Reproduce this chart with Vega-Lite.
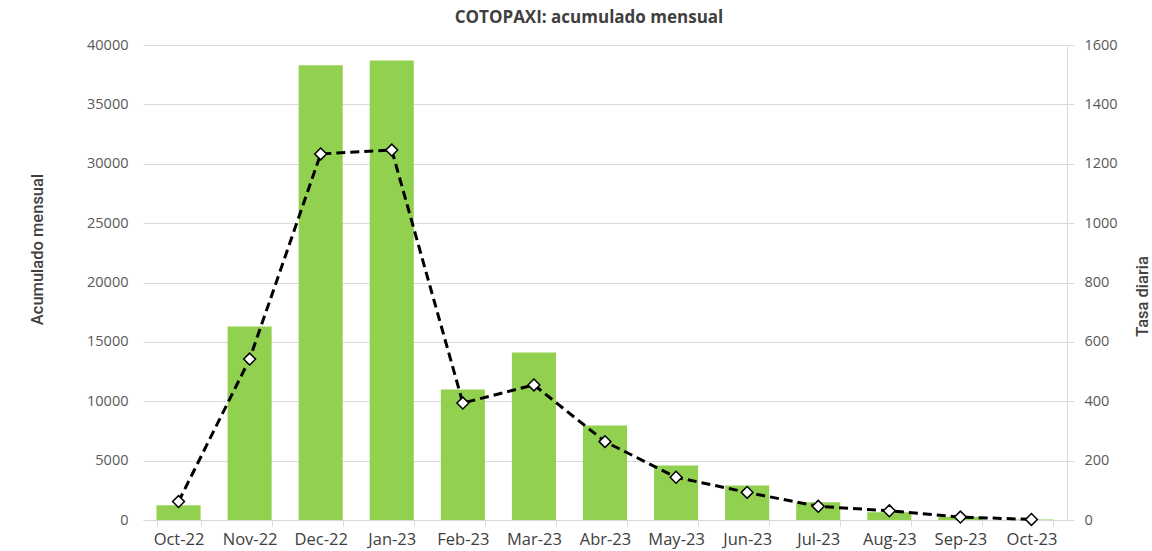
{
  "$schema": "https://vega.github.io/schema/vega-lite/v6.json",
  "width": 924,
  "height": 475,
  "autosize": {"type": "none"},
  "padding": {"left": 143, "top": 45, "right": 85, "bottom": 31},
  "background": "white",
  "config": {"view": {"stroke": null}},
  "title": {
    "text": "COTOPAXI: acumulado mensual",
    "font": "Open Sans",
    "fontSize": 17,
    "fontWeight": "bold",
    "color": "#404040",
    "anchor": "middle",
    "offset": 10,
    "dx": -16
  },
  "data": {
    "values": [
      {"mes": "Oct-22", "acumulado": 1250, "tasa": 62},
      {"mes": "Nov-22", "acumulado": 16300, "tasa": 542},
      {"mes": "Dec-22", "acumulado": 38300, "tasa": 1233},
      {"mes": "Jan-23", "acumulado": 38700, "tasa": 1246},
      {"mes": "Feb-23", "acumulado": 11000, "tasa": 394},
      {"mes": "Mar-23", "acumulado": 14100, "tasa": 455},
      {"mes": "Abr-23", "acumulado": 7950, "tasa": 264},
      {"mes": "May-23", "acumulado": 4600, "tasa": 144},
      {"mes": "Jun-23", "acumulado": 2900, "tasa": 93},
      {"mes": "Jul-23", "acumulado": 1500, "tasa": 46},
      {"mes": "Aug-23", "acumulado": 650, "tasa": 31},
      {"mes": "Sep-23", "acumulado": 280, "tasa": 10},
      {"mes": "Oct-23", "acumulado": 50, "tasa": 2}
    ]
  },
  "encoding": {
    "x": {
      "field": "mes",
      "type": "ordinal",
      "sort": null,
      "scale": {"paddingInner": 0.38, "paddingOuter": 0.19},
      "axis": {
        "title": null,
        "labelAngle": 0,
        "labelFont": "Open Sans",
        "labelFontSize": 16.5,
        "labelColor": "#404040",
        "labelPadding": 5,
        "domainColor": "#D9D9D9",
        "tickColor": "#D9D9D9",
        "tickBand": "extent",
        "tickSize": 6
      }
    }
  },
  "layer": [
    {
      "mark": {"type": "bar", "color": "#92D050"},
      "encoding": {
        "y": {
          "field": "acumulado",
          "type": "quantitative",
          "scale": {"domain": [0, 40000], "nice": false},
          "axis": {
            "title": "Acumulado mensual",
            "values": [0, 5000, 10000, 15000, 20000, 25000, 30000, 35000, 40000],
            "format": "d",
            "labelFont": "Open Sans",
            "labelFontSize": 14.5,
            "labelColor": "#595959",
            "labelPadding": 15,
            "ticks": false,
            "domain": false,
            "gridColor": "#D9D9D9",
            "titleFont": "Roboto",
            "titleFontSize": 16.5,
            "titleFontWeight": 500,
            "titleColor": "#404040",
            "titleAngle": 270,
            "titleX": -106,
            "titleY": 204,
            "titleAlign": "center",
            "titleBaseline": "middle"
          }
        }
      }
    },
    {
      "mark": {
        "type": "line",
        "color": "black",
        "strokeWidth": 3,
        "strokeDash": [9, 5],
        "point": {"shape": "diamond", "filled": true, "fill": "white", "stroke": "black", "strokeWidth": 1.5, "size": 140}
      },
      "encoding": {
        "y": {
          "field": "tasa",
          "type": "quantitative",
          "scale": {"domain": [0, 1600], "nice": false},
          "axis": {
            "orient": "right",
            "title": "Tasa diaria",
            "values": [0, 200, 400, 600, 800, 1000, 1200, 1400, 1600],
            "format": "d",
            "grid": false,
            "labelFont": "Open Sans",
            "labelFontSize": 14.5,
            "labelColor": "#595959",
            "labelPadding": 10,
            "domainColor": "#D9D9D9",
            "tickColor": "#D9D9D9",
            "tickSize": 7,
            "titleFont": "Roboto",
            "titleFontSize": 16.5,
            "titleFontWeight": 500,
            "titleColor": "#404040",
            "titleAngle": 270,
            "titleX": 75,
            "titleY": 251,
            "titleAlign": "center",
            "titleBaseline": "middle"
          }
        }
      }
    }
  ],
  "resolve": {"scale": {"y": "independent"}}
}
